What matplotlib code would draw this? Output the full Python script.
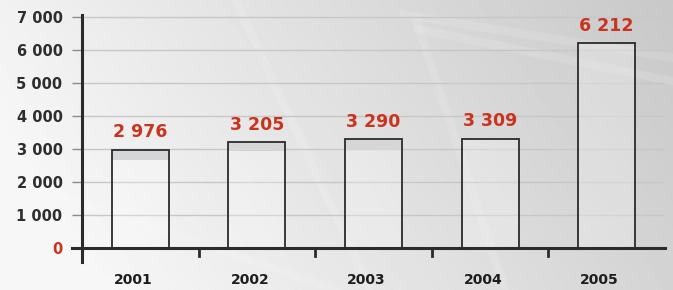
import numpy as np
import matplotlib
matplotlib.use("Agg")
import matplotlib.pyplot as plt

# data
years = ["2001", "2002", "2003", "2004", "2005"]
values = [2976, 3205, 3290, 3309, 6212]
cap_values = [320, 280, 300, 0, 0]   # grey band on top of the first bars
value_labels = ["2 976", "3 205", "3 290", "3 309", "6 212"]
ytick_values = [0, 1000, 2000, 3000, 4000, 5000, 6000, 7000]
ytick_labels = ["0", "1 000", "2 000", "3 000", "4 000", "5 000", "6 000", "7 000"]

RED = "#c9341f"
DARK = "#2b2b2b"

fig = plt.figure(figsize=(6.73, 2.90), dpi=100)

# background gradient
bg = fig.add_axes([0, 0, 1, 1], zorder=-10)
xx, yy = np.meshgrid(np.linspace(0, 1, 300), np.linspace(0, 1, 130))
shade = 0.965 - 0.18 * np.clip(xx * 0.9 + (1 - yy) * 0.25 - 0.15, 0, 1)
bg.imshow(shade, cmap="gray", vmin=0, vmax=1, extent=[0, 1, 0, 1], aspect="auto", origin="upper")
# faint decorative diagonals
for (x0, y0, x1, y1) in [(0.62, 0.9, 1.0, 0.72), (0.6, 0.95, 1.0, 0.8), (0.62, 0.92, 0.75, 0.0),
                         (0.35, 1.0, 0.55, 0.0), (0.0, 0.4, 0.5, 0.0), (0.0, 0.18, 0.2, 0.0)]:
    bg.plot([x0, x1], [y0, y1], color="white", lw=6, alpha=0.12)
bg.set_xlim(0, 1)
bg.set_ylim(0, 1)
bg.axis("off")

ax = fig.add_axes([82 / 673, 1 - 262 / 290, (665 - 82) / 673, (262 - 15) / 290])
ax.patch.set_alpha(0)
x = np.arange(len(years))

ax.set_xlim(-0.5, 4.5)
ax.set_ylim(-424, 7060)

# grid lines
for v in ytick_values[1:]:
    ax.axhline(v, color="#c6c7c8", lw=1, zorder=0)

ax.bar(x, values, width=0.49, facecolor=(1, 1, 1, 0.25), edgecolor=DARK, lw=1.3, zorder=3)
cap_bottom = [v - c for v, c in zip(values, cap_values)]
ax.bar(x, cap_values, bottom=cap_bottom, width=0.49, color="#c8c9ca", lw=0, zorder=2)

for xi, v, lab in zip(x, values, value_labels):
    ax.annotate(lab, (xi, v), xytext=(0, 6), textcoords="offset points", ha="center", va="bottom",
                color=RED, fontsize=12.5, fontweight="bold")

for xi, yr in zip(x, years):
    ax.text(xi - 0.06, -970, yr, ha="center", va="center", fontsize=10, fontweight="bold",
            color="#1e1e1e", clip_on=False)

# axes lines
for s in ["top", "right", "bottom"]:
    ax.spines[s].set_visible(False)
ax.spines["left"].set_color(DARK)
ax.spines["left"].set_linewidth(2.2)
ax.plot([-0.585, 4.5], [0, 0], color=DARK, lw=2.2, clip_on=False, zorder=5)
for xs in [0.5, 1.5, 2.5, 3.5]:
    ax.plot([xs, xs], [0, -250], color=DARK, lw=2, clip_on=False, zorder=5)

ax.set_xticks([])
ax.set_yticks(ytick_values)
ax.set_yticklabels(ytick_labels, fontsize=10.5, fontweight="bold", color="#2e2e2e")
ax.get_yticklabels()[0].set_color(RED)
ax.tick_params(axis="y", length=7, width=1, color="#8a8a8a", pad=7)

fig.savefig("out.png", dpi=100)
